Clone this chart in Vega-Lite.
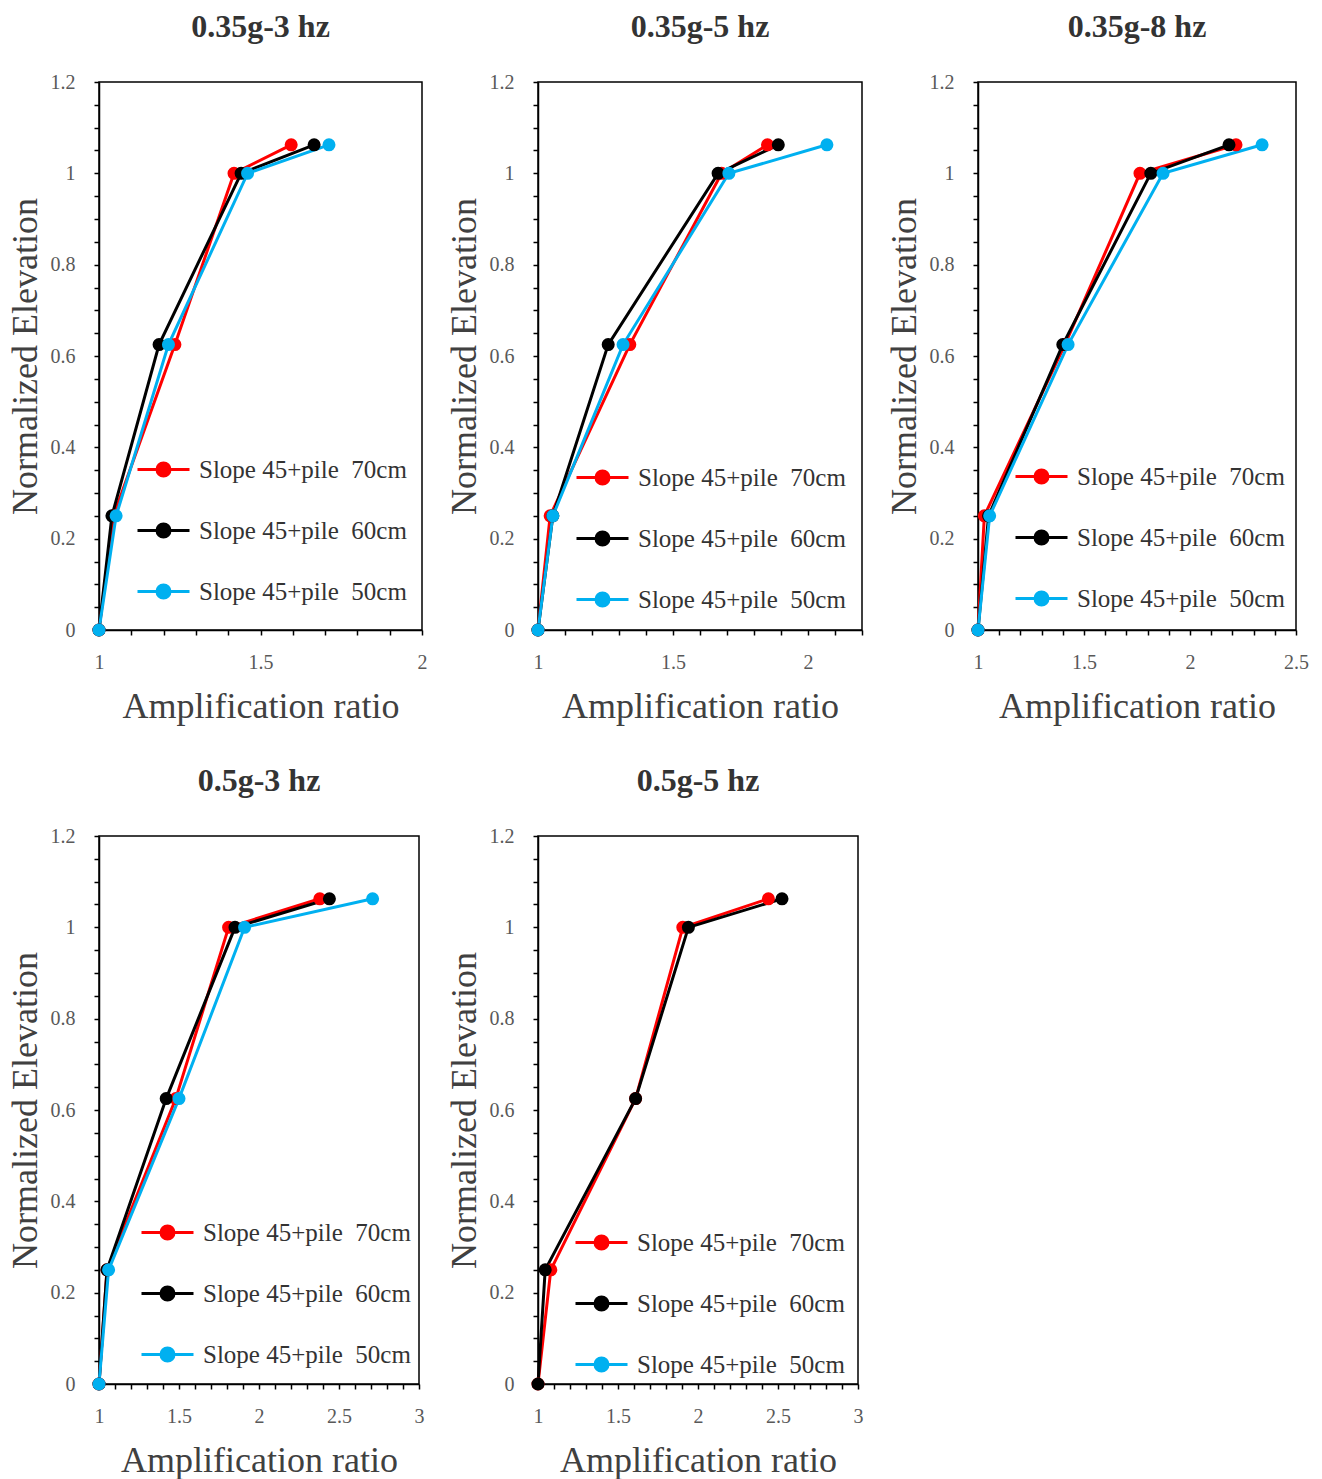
{
  "$schema": "https://vega.github.io/schema/vega-lite/v6.json",
  "background": "white",
  "padding": {"left": 6, "top": 10, "right": 8, "bottom": 2},
  "datasets": {
    "pts": [
      {"panel": "0.35g-3 hz", "series": "Slope 45+pile  70cm", "ratio": 1.0, "elev": 0},
      {"panel": "0.35g-3 hz", "series": "Slope 45+pile  70cm", "ratio": 1.045, "elev": 0.25},
      {"panel": "0.35g-3 hz", "series": "Slope 45+pile  70cm", "ratio": 1.235, "elev": 0.625},
      {"panel": "0.35g-3 hz", "series": "Slope 45+pile  70cm", "ratio": 1.418, "elev": 1.0},
      {"panel": "0.35g-3 hz", "series": "Slope 45+pile  70cm", "ratio": 1.595, "elev": 1.0625},
      {"panel": "0.35g-3 hz", "series": "Slope 45+pile  60cm", "ratio": 1.0, "elev": 0},
      {"panel": "0.35g-3 hz", "series": "Slope 45+pile  60cm", "ratio": 1.04, "elev": 0.25},
      {"panel": "0.35g-3 hz", "series": "Slope 45+pile  60cm", "ratio": 1.186, "elev": 0.625},
      {"panel": "0.35g-3 hz", "series": "Slope 45+pile  60cm", "ratio": 1.44, "elev": 1.0},
      {"panel": "0.35g-3 hz", "series": "Slope 45+pile  60cm", "ratio": 1.666, "elev": 1.0625},
      {"panel": "0.35g-3 hz", "series": "Slope 45+pile  50cm", "ratio": 1.0, "elev": 0},
      {"panel": "0.35g-3 hz", "series": "Slope 45+pile  50cm", "ratio": 1.053, "elev": 0.25},
      {"panel": "0.35g-3 hz", "series": "Slope 45+pile  50cm", "ratio": 1.215, "elev": 0.625},
      {"panel": "0.35g-3 hz", "series": "Slope 45+pile  50cm", "ratio": 1.46, "elev": 1.0},
      {"panel": "0.35g-3 hz", "series": "Slope 45+pile  50cm", "ratio": 1.712, "elev": 1.0625},

      {"panel": "0.35g-5 hz", "series": "Slope 45+pile  70cm", "ratio": 1.0, "elev": 0},
      {"panel": "0.35g-5 hz", "series": "Slope 45+pile  70cm", "ratio": 1.045, "elev": 0.25},
      {"panel": "0.35g-5 hz", "series": "Slope 45+pile  70cm", "ratio": 1.34, "elev": 0.625},
      {"panel": "0.35g-5 hz", "series": "Slope 45+pile  70cm", "ratio": 1.68, "elev": 1.0},
      {"panel": "0.35g-5 hz", "series": "Slope 45+pile  70cm", "ratio": 1.85, "elev": 1.0625},
      {"panel": "0.35g-5 hz", "series": "Slope 45+pile  60cm", "ratio": 1.0, "elev": 0},
      {"panel": "0.35g-5 hz", "series": "Slope 45+pile  60cm", "ratio": 1.055, "elev": 0.25},
      {"panel": "0.35g-5 hz", "series": "Slope 45+pile  60cm", "ratio": 1.26, "elev": 0.625},
      {"panel": "0.35g-5 hz", "series": "Slope 45+pile  60cm", "ratio": 1.667, "elev": 1.0},
      {"panel": "0.35g-5 hz", "series": "Slope 45+pile  60cm", "ratio": 1.89, "elev": 1.0625},
      {"panel": "0.35g-5 hz", "series": "Slope 45+pile  50cm", "ratio": 1.0, "elev": 0},
      {"panel": "0.35g-5 hz", "series": "Slope 45+pile  50cm", "ratio": 1.055, "elev": 0.25},
      {"panel": "0.35g-5 hz", "series": "Slope 45+pile  50cm", "ratio": 1.315, "elev": 0.625},
      {"panel": "0.35g-5 hz", "series": "Slope 45+pile  50cm", "ratio": 1.707, "elev": 1.0},
      {"panel": "0.35g-5 hz", "series": "Slope 45+pile  50cm", "ratio": 2.07, "elev": 1.0625},

      {"panel": "0.35g-8 hz", "series": "Slope 45+pile  70cm", "ratio": 1.0, "elev": 0},
      {"panel": "0.35g-8 hz", "series": "Slope 45+pile  70cm", "ratio": 1.03, "elev": 0.25},
      {"panel": "0.35g-8 hz", "series": "Slope 45+pile  70cm", "ratio": 1.41, "elev": 0.625},
      {"panel": "0.35g-8 hz", "series": "Slope 45+pile  70cm", "ratio": 1.764, "elev": 1.0},
      {"panel": "0.35g-8 hz", "series": "Slope 45+pile  70cm", "ratio": 2.217, "elev": 1.0625},
      {"panel": "0.35g-8 hz", "series": "Slope 45+pile  60cm", "ratio": 1.0, "elev": 0},
      {"panel": "0.35g-8 hz", "series": "Slope 45+pile  60cm", "ratio": 1.05, "elev": 0.25},
      {"panel": "0.35g-8 hz", "series": "Slope 45+pile  60cm", "ratio": 1.40, "elev": 0.625},
      {"panel": "0.35g-8 hz", "series": "Slope 45+pile  60cm", "ratio": 1.815, "elev": 1.0},
      {"panel": "0.35g-8 hz", "series": "Slope 45+pile  60cm", "ratio": 2.184, "elev": 1.0625},
      {"panel": "0.35g-8 hz", "series": "Slope 45+pile  50cm", "ratio": 1.0, "elev": 0},
      {"panel": "0.35g-8 hz", "series": "Slope 45+pile  50cm", "ratio": 1.055, "elev": 0.25},
      {"panel": "0.35g-8 hz", "series": "Slope 45+pile  50cm", "ratio": 1.425, "elev": 0.625},
      {"panel": "0.35g-8 hz", "series": "Slope 45+pile  50cm", "ratio": 1.873, "elev": 1.0},
      {"panel": "0.35g-8 hz", "series": "Slope 45+pile  50cm", "ratio": 2.34, "elev": 1.0625},

      {"panel": "0.5g-3 hz", "series": "Slope 45+pile  70cm", "ratio": 1.0, "elev": 0},
      {"panel": "0.5g-3 hz", "series": "Slope 45+pile  70cm", "ratio": 1.05, "elev": 0.25},
      {"panel": "0.5g-3 hz", "series": "Slope 45+pile  70cm", "ratio": 1.48, "elev": 0.625},
      {"panel": "0.5g-3 hz", "series": "Slope 45+pile  70cm", "ratio": 1.81, "elev": 1.0},
      {"panel": "0.5g-3 hz", "series": "Slope 45+pile  70cm", "ratio": 2.38, "elev": 1.0625},
      {"panel": "0.5g-3 hz", "series": "Slope 45+pile  60cm", "ratio": 1.0, "elev": 0},
      {"panel": "0.5g-3 hz", "series": "Slope 45+pile  60cm", "ratio": 1.05, "elev": 0.25},
      {"panel": "0.5g-3 hz", "series": "Slope 45+pile  60cm", "ratio": 1.42, "elev": 0.625},
      {"panel": "0.5g-3 hz", "series": "Slope 45+pile  60cm", "ratio": 1.85, "elev": 1.0},
      {"panel": "0.5g-3 hz", "series": "Slope 45+pile  60cm", "ratio": 2.44, "elev": 1.0625},
      {"panel": "0.5g-3 hz", "series": "Slope 45+pile  50cm", "ratio": 1.0, "elev": 0},
      {"panel": "0.5g-3 hz", "series": "Slope 45+pile  50cm", "ratio": 1.06, "elev": 0.25},
      {"panel": "0.5g-3 hz", "series": "Slope 45+pile  50cm", "ratio": 1.50, "elev": 0.625},
      {"panel": "0.5g-3 hz", "series": "Slope 45+pile  50cm", "ratio": 1.91, "elev": 1.0},
      {"panel": "0.5g-3 hz", "series": "Slope 45+pile  50cm", "ratio": 2.71, "elev": 1.0625},

      {"panel": "0.5g-5 hz", "series": "Slope 45+pile  70cm", "ratio": 1.0, "elev": 0},
      {"panel": "0.5g-5 hz", "series": "Slope 45+pile  70cm", "ratio": 1.08, "elev": 0.25},
      {"panel": "0.5g-5 hz", "series": "Slope 45+pile  70cm", "ratio": 1.61, "elev": 0.625},
      {"panel": "0.5g-5 hz", "series": "Slope 45+pile  70cm", "ratio": 1.905, "elev": 1.0},
      {"panel": "0.5g-5 hz", "series": "Slope 45+pile  70cm", "ratio": 2.44, "elev": 1.0625},
      {"panel": "0.5g-5 hz", "series": "Slope 45+pile  60cm", "ratio": 1.0, "elev": 0},
      {"panel": "0.5g-5 hz", "series": "Slope 45+pile  60cm", "ratio": 1.045, "elev": 0.25},
      {"panel": "0.5g-5 hz", "series": "Slope 45+pile  60cm", "ratio": 1.61, "elev": 0.625},
      {"panel": "0.5g-5 hz", "series": "Slope 45+pile  60cm", "ratio": 1.94, "elev": 1.0},
      {"panel": "0.5g-5 hz", "series": "Slope 45+pile  60cm", "ratio": 2.525, "elev": 1.0625}
    ]
  },
  "config": {
    "font": "Liberation Serif",
    "view": {"stroke": "black", "strokeWidth": 1.5},
    "title": {"font": "Liberation Serif", "fontSize": 32, "fontWeight": "bold", "color": "#333333", "offset": 28},
    "axis": {
      "grid": false,
      "domainColor": "black",
      "domainWidth": 1.5,
      "tickColor": "black",
      "tickWidth": 1.5,
      "tickSize": 5,
      "labelFont": "Liberation Serif",
      "labelFontSize": 20,
      "labelColor": "#595959",
      "labelFlush": false,
      "labelOverlap": false,
      "titleFont": "Liberation Serif",
      "titleFontSize": 36,
      "titleFontWeight": "normal",
      "titleColor": "#404040"
    },
    "axisX": {"labelPadding": 17, "titlePadding": 17},
    "axisY": {"labelPadding": 19, "titlePadding": 6},
    "legend": {
      "orient": "none",
      "title": null,
      "padding": 0,
      "labelFont": "Liberation Serif",
      "labelFontSize": 25,
      "labelColor": "#333333",
      "labelLimit": 0,
      "labelOffset": 8,
      "symbolType": "M-1,0H1M-0.25,0A0.25,0.25,0,1,0,0.25,0A0.25,0.25,0,1,0,-0.25,0Z",
      "symbolSize": 2704,
      "symbolStrokeWidth": 3,
      "rowPadding": 20
    }
  },
  "columns": 3,
  "bounds": "flush",
  "spacing": {"row": 206, "column": 116},
  "concat": [
    {
      "title": "0.35g-3 hz",
      "width": 323, "height": 548,
      "data": {"name": "pts"},
      "transform": [{"filter": "datum.panel == '0.35g-3 hz'"}],
      "encoding": {
        "x": {"field": "ratio", "type": "quantitative", "scale": {"domain": [1, 2], "nice": false, "zero": false},
          "axis": {"title": "Amplification ratio", "values": [1, 1.1, 1.2, 1.3, 1.4, 1.5, 1.6, 1.7, 1.8, 1.9, 2], "labelExpr": "abs(datum.value*2 - round(datum.value*2)) < 0.001 ? format(datum.value, '~g') : ''"}},
        "y": {"field": "elev", "type": "quantitative", "scale": {"domain": [0, 1.2], "nice": false},
          "axis": {"title": "Normalized Elevation", "values": [0, 0.05, 0.1, 0.15, 0.2, 0.25, 0.3, 0.35, 0.4, 0.45, 0.5, 0.55, 0.6, 0.65, 0.7, 0.75, 0.8, 0.85, 0.9, 0.95, 1, 1.05, 1.1, 1.15, 1.2], "labelExpr": "abs(datum.value*5 - round(datum.value*5)) < 0.001 ? format(datum.value, '~g') : ''"}},
        "color": {"field": "series", "type": "nominal", "sort": null,
          "scale": {"domain": ["Slope 45+pile  70cm", "Slope 45+pile  60cm", "Slope 45+pile  50cm"], "range": ["#ff0000", "#000000", "#00b0f0"]},
          "legend": {"legendX": 37, "legendY": 360,
            "labelExpr": "replace(datum.label, '  ', '\u00a0\u00a0')",
            "encode": {"symbols": {"update": {"fill": {"signal": "datum.value == 'Slope 45+pile  70cm' ? '#ff0000' : datum.value == 'Slope 45+pile  60cm' ? '#000000' : '#00b0f0'"}, "stroke": {"signal": "datum.value == 'Slope 45+pile  70cm' ? '#ff0000' : datum.value == 'Slope 45+pile  60cm' ? '#000000' : '#00b0f0'"}, "opacity": {"value": 1}, "strokeWidth": {"value": 3}}}}}}
      },
      "layer": [
        {"mark": {"type": "line", "strokeWidth": 3}},
        {"mark": {"type": "point", "filled": true, "size": 170, "opacity": 1}}
      ]
    },
    {
      "title": "0.35g-5 hz",
      "width": 324, "height": 548,
      "data": {"name": "pts"},
      "transform": [{"filter": "datum.panel == '0.35g-5 hz'"}],
      "encoding": {
        "x": {"field": "ratio", "type": "quantitative", "scale": {"domain": [1, 2.2], "nice": false, "zero": false},
          "axis": {"title": "Amplification ratio", "values": [1, 1.1, 1.2, 1.3, 1.4, 1.5, 1.6, 1.7, 1.8, 1.9, 2, 2.1, 2.2], "labelExpr": "abs(datum.value*2 - round(datum.value*2)) < 0.001 ? format(datum.value, '~g') : ''"}},
        "y": {"field": "elev", "type": "quantitative", "scale": {"domain": [0, 1.2], "nice": false},
          "axis": {"title": "Normalized Elevation", "values": [0, 0.05, 0.1, 0.15, 0.2, 0.25, 0.3, 0.35, 0.4, 0.45, 0.5, 0.55, 0.6, 0.65, 0.7, 0.75, 0.8, 0.85, 0.9, 0.95, 1, 1.05, 1.1, 1.15, 1.2], "labelExpr": "abs(datum.value*5 - round(datum.value*5)) < 0.001 ? format(datum.value, '~g') : ''"}},
        "color": {"field": "series", "type": "nominal", "sort": null,
          "scale": {"domain": ["Slope 45+pile  70cm", "Slope 45+pile  60cm", "Slope 45+pile  50cm"], "range": ["#ff0000", "#000000", "#00b0f0"]},
          "legend": {"legendX": 37, "legendY": 368,
            "labelExpr": "replace(datum.label, '  ', '\u00a0\u00a0')",
            "encode": {"symbols": {"update": {"fill": {"signal": "datum.value == 'Slope 45+pile  70cm' ? '#ff0000' : datum.value == 'Slope 45+pile  60cm' ? '#000000' : '#00b0f0'"}, "stroke": {"signal": "datum.value == 'Slope 45+pile  70cm' ? '#ff0000' : datum.value == 'Slope 45+pile  60cm' ? '#000000' : '#00b0f0'"}, "opacity": {"value": 1}, "strokeWidth": {"value": 3}}}}}}
      },
      "layer": [
        {"mark": {"type": "line", "strokeWidth": 3}},
        {"mark": {"type": "point", "filled": true, "size": 170, "opacity": 1}}
      ]
    },
    {
      "title": "0.35g-8 hz",
      "width": 318, "height": 548,
      "data": {"name": "pts"},
      "transform": [{"filter": "datum.panel == '0.35g-8 hz'"}],
      "encoding": {
        "x": {"field": "ratio", "type": "quantitative", "scale": {"domain": [1, 2.5], "nice": false, "zero": false},
          "axis": {"title": "Amplification ratio", "values": [1, 1.1, 1.2, 1.3, 1.4, 1.5, 1.6, 1.7, 1.8, 1.9, 2, 2.1, 2.2, 2.3, 2.4, 2.5], "labelExpr": "abs(datum.value*2 - round(datum.value*2)) < 0.001 ? format(datum.value, '~g') : ''"}},
        "y": {"field": "elev", "type": "quantitative", "scale": {"domain": [0, 1.2], "nice": false},
          "axis": {"title": "Normalized Elevation", "values": [0, 0.05, 0.1, 0.15, 0.2, 0.25, 0.3, 0.35, 0.4, 0.45, 0.5, 0.55, 0.6, 0.65, 0.7, 0.75, 0.8, 0.85, 0.9, 0.95, 1, 1.05, 1.1, 1.15, 1.2], "labelExpr": "abs(datum.value*5 - round(datum.value*5)) < 0.001 ? format(datum.value, '~g') : ''"}},
        "color": {"field": "series", "type": "nominal", "sort": null,
          "scale": {"domain": ["Slope 45+pile  70cm", "Slope 45+pile  60cm", "Slope 45+pile  50cm"], "range": ["#ff0000", "#000000", "#00b0f0"]},
          "legend": {"legendX": 36, "legendY": 367,
            "labelExpr": "replace(datum.label, '  ', '\u00a0\u00a0')",
            "encode": {"symbols": {"update": {"fill": {"signal": "datum.value == 'Slope 45+pile  70cm' ? '#ff0000' : datum.value == 'Slope 45+pile  60cm' ? '#000000' : '#00b0f0'"}, "stroke": {"signal": "datum.value == 'Slope 45+pile  70cm' ? '#ff0000' : datum.value == 'Slope 45+pile  60cm' ? '#000000' : '#00b0f0'"}, "opacity": {"value": 1}, "strokeWidth": {"value": 3}}}}}}
      },
      "layer": [
        {"mark": {"type": "line", "strokeWidth": 3}},
        {"mark": {"type": "point", "filled": true, "size": 170, "opacity": 1}}
      ]
    },
    {
      "title": "0.5g-3 hz",
      "width": 320, "height": 548,
      "data": {"name": "pts"},
      "transform": [{"filter": "datum.panel == '0.5g-3 hz'"}],
      "encoding": {
        "x": {"field": "ratio", "type": "quantitative", "scale": {"domain": [1, 3], "nice": false, "zero": false},
          "axis": {"title": "Amplification ratio", "values": [1, 1.1, 1.2, 1.3, 1.4, 1.5, 1.6, 1.7, 1.8, 1.9, 2, 2.1, 2.2, 2.3, 2.4, 2.5, 2.6, 2.7, 2.8, 2.9, 3], "labelExpr": "abs(datum.value*2 - round(datum.value*2)) < 0.001 ? format(datum.value, '~g') : ''"}},
        "y": {"field": "elev", "type": "quantitative", "scale": {"domain": [0, 1.2], "nice": false},
          "axis": {"title": "Normalized Elevation", "values": [0, 0.05, 0.1, 0.15, 0.2, 0.25, 0.3, 0.35, 0.4, 0.45, 0.5, 0.55, 0.6, 0.65, 0.7, 0.75, 0.8, 0.85, 0.9, 0.95, 1, 1.05, 1.1, 1.15, 1.2], "labelExpr": "abs(datum.value*5 - round(datum.value*5)) < 0.001 ? format(datum.value, '~g') : ''"}},
        "color": {"field": "series", "type": "nominal", "sort": null,
          "scale": {"domain": ["Slope 45+pile  70cm", "Slope 45+pile  60cm", "Slope 45+pile  50cm"], "range": ["#ff0000", "#000000", "#00b0f0"]},
          "legend": {"legendX": 41, "legendY": 369,
            "labelExpr": "replace(datum.label, '  ', '\u00a0\u00a0')",
            "encode": {"symbols": {"update": {"fill": {"signal": "datum.value == 'Slope 45+pile  70cm' ? '#ff0000' : datum.value == 'Slope 45+pile  60cm' ? '#000000' : '#00b0f0'"}, "stroke": {"signal": "datum.value == 'Slope 45+pile  70cm' ? '#ff0000' : datum.value == 'Slope 45+pile  60cm' ? '#000000' : '#00b0f0'"}, "opacity": {"value": 1}, "strokeWidth": {"value": 3}}}}}}
      },
      "layer": [
        {"mark": {"type": "line", "strokeWidth": 3}},
        {"mark": {"type": "point", "filled": true, "size": 170, "opacity": 1}}
      ]
    },
    {
      "title": "0.5g-5 hz",
      "width": 320, "height": 548,
      "data": {"name": "pts"},
      "transform": [{"filter": "datum.panel == '0.5g-5 hz'"}],
      "encoding": {
        "x": {"field": "ratio", "type": "quantitative", "scale": {"domain": [1, 3], "nice": false, "zero": false},
          "axis": {"title": "Amplification ratio", "values": [1, 1.1, 1.2, 1.3, 1.4, 1.5, 1.6, 1.7, 1.8, 1.9, 2, 2.1, 2.2, 2.3, 2.4, 2.5, 2.6, 2.7, 2.8, 2.9, 3], "labelExpr": "abs(datum.value*2 - round(datum.value*2)) < 0.001 ? format(datum.value, '~g') : ''"}},
        "y": {"field": "elev", "type": "quantitative", "scale": {"domain": [0, 1.2], "nice": false},
          "axis": {"title": "Normalized Elevation", "values": [0, 0.05, 0.1, 0.15, 0.2, 0.25, 0.3, 0.35, 0.4, 0.45, 0.5, 0.55, 0.6, 0.65, 0.7, 0.75, 0.8, 0.85, 0.9, 0.95, 1, 1.05, 1.1, 1.15, 1.2], "labelExpr": "abs(datum.value*5 - round(datum.value*5)) < 0.001 ? format(datum.value, '~g') : ''"}},
        "color": {"field": "series", "type": "nominal", "sort": null,
          "scale": {"domain": ["Slope 45+pile  70cm", "Slope 45+pile  60cm", "Slope 45+pile  50cm"], "range": ["#ff0000", "#000000", "#00b0f0"]},
          "legend": {"legendX": 36, "legendY": 379,
            "labelExpr": "replace(datum.label, '  ', '\u00a0\u00a0')",
            "encode": {"symbols": {"update": {"fill": {"signal": "datum.value == 'Slope 45+pile  70cm' ? '#ff0000' : datum.value == 'Slope 45+pile  60cm' ? '#000000' : '#00b0f0'"}, "stroke": {"signal": "datum.value == 'Slope 45+pile  70cm' ? '#ff0000' : datum.value == 'Slope 45+pile  60cm' ? '#000000' : '#00b0f0'"}, "opacity": {"value": 1}, "strokeWidth": {"value": 3}}}}}}
      },
      "layer": [
        {"mark": {"type": "line", "strokeWidth": 3}},
        {"mark": {"type": "point", "filled": true, "size": 170, "opacity": 1}}
      ]
    }
  ],
  "resolve": {"scale": {"color": "independent", "x": "independent", "y": "independent"}, "legend": {"color": "independent"}}
}
